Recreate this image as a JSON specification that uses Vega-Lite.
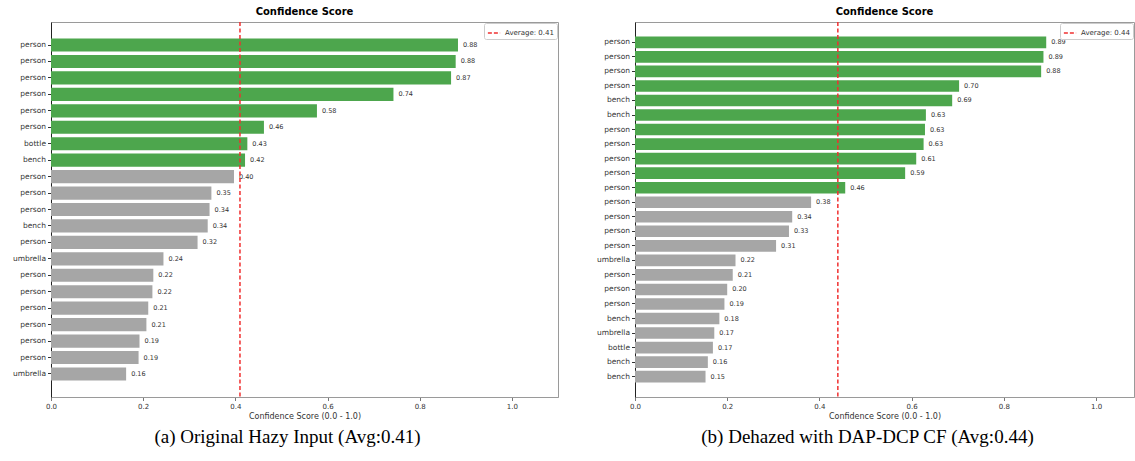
{
  "$schema": "https://vega.github.io/schema/vega-lite/v6.json",
  "padding": {"left": 0, "top": 6, "right": 0, "bottom": 0},
  "spacing": 25,
  "config": {
    "font": "DejaVu Sans",
    "view": {"stroke": "#9a9a9a", "strokeWidth": 1},
    "axis": {"grid": false}
  },
  "datasets": {
    "a": [
      {"id": "person#01", "score": 0.883},
      {"id": "person#02", "score": 0.878},
      {"id": "person#03", "score": 0.868},
      {"id": "person#04", "score": 0.743},
      {"id": "person#05", "score": 0.577},
      {"id": "person#06", "score": 0.462},
      {"id": "bottle#07", "score": 0.426},
      {"id": "bench#08", "score": 0.421},
      {"id": "person#09", "score": 0.397},
      {"id": "person#10", "score": 0.348},
      {"id": "person#11", "score": 0.344},
      {"id": "bench#12", "score": 0.340},
      {"id": "person#13", "score": 0.318},
      {"id": "umbrella#14", "score": 0.244},
      {"id": "person#15", "score": 0.222},
      {"id": "person#16", "score": 0.220},
      {"id": "person#17", "score": 0.211},
      {"id": "person#18", "score": 0.207},
      {"id": "person#19", "score": 0.192},
      {"id": "person#20", "score": 0.190},
      {"id": "umbrella#21", "score": 0.163}
    ],
    "b": [
      {"id": "person#01", "score": 0.892},
      {"id": "person#02", "score": 0.886},
      {"id": "person#03", "score": 0.881},
      {"id": "person#04", "score": 0.703},
      {"id": "bench#05", "score": 0.688},
      {"id": "bench#06", "score": 0.631},
      {"id": "person#07", "score": 0.629},
      {"id": "person#08", "score": 0.626},
      {"id": "person#09", "score": 0.610},
      {"id": "person#10", "score": 0.586},
      {"id": "person#11", "score": 0.456},
      {"id": "person#12", "score": 0.382},
      {"id": "person#13", "score": 0.341},
      {"id": "person#14", "score": 0.334},
      {"id": "person#15", "score": 0.306},
      {"id": "umbrella#16", "score": 0.218},
      {"id": "person#17", "score": 0.212},
      {"id": "person#18", "score": 0.200},
      {"id": "person#19", "score": 0.194},
      {"id": "bench#20", "score": 0.183},
      {"id": "umbrella#21", "score": 0.172},
      {"id": "bottle#22", "score": 0.169},
      {"id": "bench#23", "score": 0.158},
      {"id": "bench#24", "score": 0.153}
    ]
  },
  "resolve": {
    "scale": {"x": "independent", "y": "independent", "color": "independent"},
    "legend": {"color": "independent"}
  },
  "hconcat": [
    {
      "title": {"text": "(a) Original Hazy Input (Avg:0.41)", "orient": "bottom", "font": "Liberation Serif", "fontSize": 19, "fontWeight": "normal", "color": "black", "anchor": "middle", "frame": "bounds", "offset": 7, "dx": 8},
      "resolve": {"scale": {"color": "independent"}, "legend": {"color": "independent"}},
      "vconcat": [
        {
          "width": 507, "height": 375,
          "title": {"text": "Confidence Score", "fontSize": 10, "fontWeight": "bold", "color": "black", "offset": 4},
          "layer": [
            {
              "data": {"name": "a"},
              "mark": {"type": "bar"},
              "encoding": {
                "y": {"field": "id", "type": "nominal", "sort": null,
                  "scale": {"type": "band", "paddingInner": 0.2, "paddingOuter": 1.0},
                  "axis": {"title": null, "labelExpr": "split(datum.value,'#')[0]", "labelFontSize": 7.5, "labelColor": "#333", "tickSize": 3.5, "tickColor": "#333", "labelPadding": 2, "domainColor": "#222", "minExtent": 50, "maxExtent": 50}},
                "x": {"field": "score", "type": "quantitative",
                  "scale": {"domain": [0, 1.1], "nice": false},
                  "axis": {"title": "Confidence Score (0.0 - 1.0)", "values": [0, 0.2, 0.4, 0.6, 0.8, 1.0], "format": ".1f", "labelFlush": false, "labelFontSize": 7, "labelColor": "#333", "tickSize": 3.5, "tickColor": "#777", "domainColor": "#9a9a9a", "titleFontSize": 8, "titleFontWeight": "normal", "titleColor": "#333", "titlePadding": 3, "labelPadding": 2}},
                "color": {"condition": {"test": "datum.score > 0.41", "value": "#4da64d"}, "value": "#a6a6a6"}
              }
            },
            {
              "data": {"name": "a"},
              "mark": {"type": "text", "align": "left", "baseline": "middle", "dx": 5, "fontSize": 6.5, "color": "#333"},
              "encoding": {
                "y": {"field": "id", "type": "nominal", "sort": null},
                "x": {"field": "score", "type": "quantitative"},
                "text": {"field": "score", "type": "quantitative", "format": ".2f"}
              }
            },
            {
              "data": {"values": [{"avg": 0.41, "label": "Average: 0.41"}]},
              "mark": {"type": "rule", "strokeDash": [4, 2.5], "strokeWidth": 1.5},
              "encoding": {
                "x": {"field": "avg", "type": "quantitative"},
                "color": {"field": "label", "type": "nominal", "scale": {"range": ["#f03030"]},
                  "legend": {"title": null, "orient": "top-right", "offset": 1, "symbolType": "stroke", "symbolStrokeWidth": 1.5, "symbolDash": [4, 2], "symbolSize": 150, "labelFontSize": 7, "labelColor": "#333", "strokeColor": "#cccccc", "fillColor": "white", "padding": 3, "cornerRadius": 2}}
              }
            }
          ]
        }
      ]
    },
    {
      "title": {"text": "(b) Dehazed with DAP-DCP CF (Avg:0.44)", "orient": "bottom", "font": "Liberation Serif", "fontSize": 19, "fontWeight": "normal", "color": "black", "anchor": "middle", "frame": "bounds", "offset": 7, "dx": 8},
      "resolve": {"scale": {"color": "independent"}, "legend": {"color": "independent"}},
      "vconcat": [
        {
          "width": 499, "height": 375,
          "title": {"text": "Confidence Score", "fontSize": 10, "fontWeight": "bold", "color": "black", "offset": 4},
          "layer": [
            {
              "data": {"name": "b"},
              "mark": {"type": "bar"},
              "encoding": {
                "y": {"field": "id", "type": "nominal", "sort": null,
                  "scale": {"type": "band", "paddingInner": 0.2, "paddingOuter": 1.17},
                  "axis": {"title": null, "labelExpr": "split(datum.value,'#')[0]", "labelFontSize": 7.5, "labelColor": "#333", "tickSize": 3.5, "tickColor": "#333", "labelPadding": 2, "domainColor": "#222", "minExtent": 50, "maxExtent": 50}},
                "x": {"field": "score", "type": "quantitative",
                  "scale": {"domain": [0, 1.0824], "nice": false},
                  "axis": {"title": "Confidence Score (0.0 - 1.0)", "values": [0, 0.2, 0.4, 0.6, 0.8, 1.0], "format": ".1f", "labelFlush": false, "labelFontSize": 7, "labelColor": "#333", "tickSize": 3.5, "tickColor": "#777", "domainColor": "#9a9a9a", "titleFontSize": 8, "titleFontWeight": "normal", "titleColor": "#333", "titlePadding": 3, "labelPadding": 2}},
                "color": {"condition": {"test": "datum.score > 0.44", "value": "#4da64d"}, "value": "#a6a6a6"}
              }
            },
            {
              "data": {"name": "b"},
              "mark": {"type": "text", "align": "left", "baseline": "middle", "dx": 5, "fontSize": 6.5, "color": "#333"},
              "encoding": {
                "y": {"field": "id", "type": "nominal", "sort": null},
                "x": {"field": "score", "type": "quantitative"},
                "text": {"field": "score", "type": "quantitative", "format": ".2f"}
              }
            },
            {
              "data": {"values": [{"avg": 0.44, "label": "Average: 0.44"}]},
              "mark": {"type": "rule", "strokeDash": [4, 2.5], "strokeWidth": 1.5},
              "encoding": {
                "x": {"field": "avg", "type": "quantitative"},
                "color": {"field": "label", "type": "nominal", "scale": {"range": ["#f03030"]},
                  "legend": {"title": null, "orient": "top-right", "offset": 1, "symbolType": "stroke", "symbolStrokeWidth": 1.5, "symbolDash": [4, 2], "symbolSize": 150, "labelFontSize": 7, "labelColor": "#333", "strokeColor": "#cccccc", "fillColor": "white", "padding": 3, "cornerRadius": 2}}
              }
            }
          ]
        }
      ]
    }
  ]
}
